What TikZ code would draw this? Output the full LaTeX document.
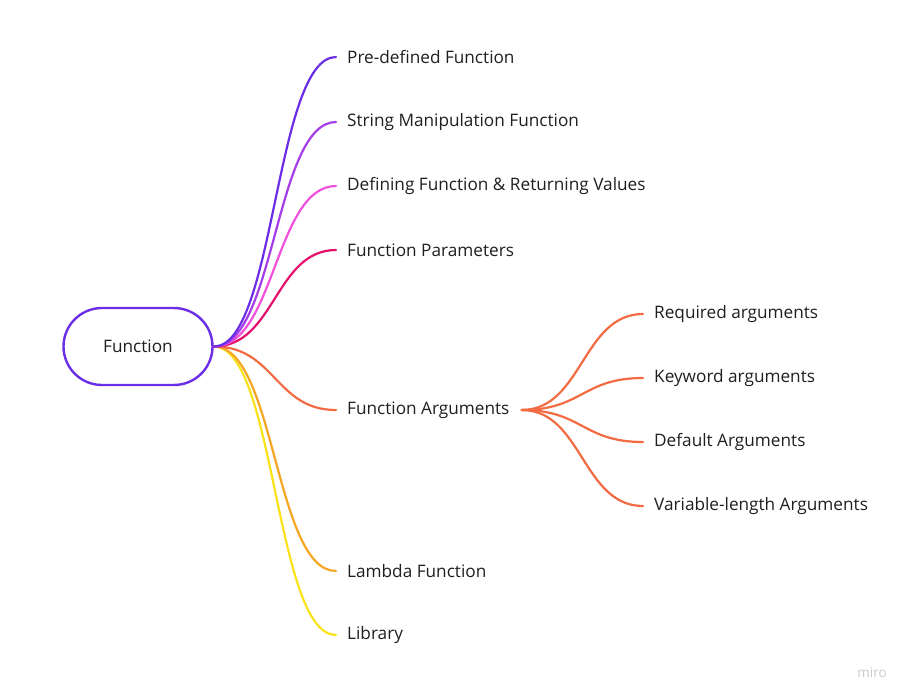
\documentclass[tikz,border=0pt]{standalone}
\usepackage{fontspec}
\setmainfont{Open Sans}
\usetikzlibrary{calc}
\definecolor{cA}{HTML}{6B2EE6}
\definecolor{cB}{HTML}{A43CE8}
\definecolor{cC}{HTML}{F050DC}
\definecolor{cD}{HTML}{E5106B}
\definecolor{cE}{HTML}{F26B43}
\definecolor{cF}{HTML}{F5A623}
\definecolor{cG}{HTML}{F9E21A}
\definecolor{txt}{HTML}{1F1F1F}
\definecolor{wm}{HTML}{C8C8D0}
\tikzset{
  rootbox/.style={draw=cA, line width=2.4pt, rounded corners=38.5pt, minimum width=149pt, minimum height=77pt, inner sep=0pt, text=txt, font=\fontsize{17.2}{20}\selectfont},
  leaf/.style={anchor=west, inner xsep=11pt, inner ysep=0pt, text=txt, font=\fontsize{17.2}{20}\selectfont},
  branch/.style={line width=2.2pt, line cap=round, to path={let \p1=(\tikztostart), \p2=(\tikztotarget) in .. controls ({(\x1+\x2)/2},\y1) and ({(\x1+\x2)/2},\y2) .. (\tikztotarget)}}
}
\begin{document}
\begin{tikzpicture}[x=1pt,y=-1pt]
\useasboundingbox (0,0) rectangle (908,699);
\node[rootbox] (root) at (138,346.5) {Function};
\coordinate (rs) at (214,346.5);
\node[leaf] (l1) at (336,57) {Pre-defined Function};
\node[leaf] (l2) at (336,122) {String Manipulation Function};
\node[leaf] (l3) at (336,186) {Defining Function \& Returning Values};
\node[leaf] (l4) at (336,250) {Function Parameters};
\node[leaf] (l5) at (336,410) {Function Arguments};
\node[leaf] (l6) at (336,571) {Lambda Function};
\node[leaf] (l7) at (336,635) {Library};
\node[leaf] (s1) at (643,314) {Required arguments};
\node[leaf] (s2) at (643,378) {Keyword arguments};
\node[leaf] (s3) at (643,442) {Default Arguments};
\node[leaf] (s4) at (643,506) {Variable-length Arguments};
\draw[branch, cG] (rs) to (l7.west);
\draw[branch, cF] (rs) to (l6.west);
\draw[branch, cE] (rs) to (l5.west);
\draw[branch, cD] (rs) to (l4.west);
\draw[branch, cC] (rs) to (l3.west);
\draw[branch, cB] (rs) to (l2.west);
\draw[branch, cA] (rs) to (l1.west);
\coordinate (fs) at ($(l5.east)+(1,0)$);
\draw[branch, cE] (fs) to (s1.west);
\draw[branch, cE] (fs) to (s2.west);
\draw[branch, cE] (fs) to (s3.west);
\draw[branch, cE] (fs) to (s4.west);
\node[text=wm, font=\fontsize{13.5}{15}\selectfont] (mark) at (872,673) {miro};
\end{tikzpicture}
\end{document}
